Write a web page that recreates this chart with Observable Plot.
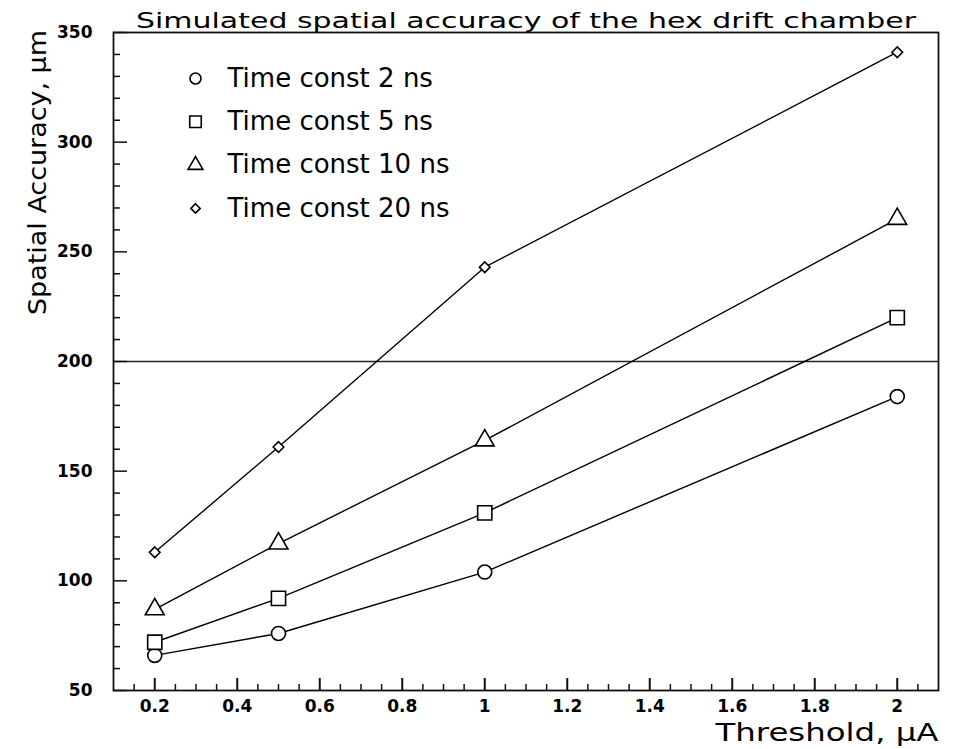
<!DOCTYPE html>
<html><head><meta charset="utf-8">
<script src="https://cdn.jsdelivr.net/npm/d3@7"></script>
<script src="https://cdn.jsdelivr.net/npm/@observablehq/plot@0.6"></script>
<style>body{margin:0;background:#fff} svg{display:block}</style>
</head><body><div id="chart"></div>
<script>
// ---- data ----
const thresholds = [0.2, 0.5, 1, 2];
const seriesNames = ["Time const 2 ns", "Time const 5 ns", "Time const 10 ns", "Time const 20 ns"];
const tc2  = [66, 76, 104, 184];
const tc5  = [72, 92, 131, 220];
const tc10 = [87, 117, 164, 265];
const tc20 = [113, 161, 243, 341];
const referenceLevel = [200];
const xTickLabels = [0.2, 0.4, 0.6, 0.8, 1, 1.2, 1.4, 1.6, 1.8, 2];
const yTickLabels = [50, 100, 150, 200, 250, 300, 350];
const title = "Simulated spatial accuracy of the hex drift chamber";
const xLabel = "Threshold, \u03bcA";
const yLabel = "Spatial Accuracy, \u03bcm";

// ---- styles ----
const W = 956, H = 749, mL = 113, mR = 18, mT = 32, mB = 59;
const fw = W - mL - mR, fh = H - mT - mB;
const symbols = [
  {symbol: "circle", r: 7, lr: 5.5},
  {symbol: "square", r: 8, lr: 6.5},
  {symbol: "triangle", r: 7, lr: 5.5},
  {symbol: "diamond2", r: 4.8, lr: 4.2}
];
const allSeries = [tc2, tc5, tc10, tc20];
const xMinor = d3.range(3, 42).map(i => i * 0.05).filter(v => !xTickLabels.some(t => Math.abs(t - v) < 1e-9));
const yMinor = d3.range(6, 35).map(i => i * 10).filter(v => v % 50 !== 0);

const marks = [
  Plot.ruleY(referenceLevel, {stroke: "#222", strokeWidth: 1.5}),
  Plot.tickY(yMinor, {y: d => d, insetRight: fw - 7, stroke: "#111", strokeWidth: 1.5}),
  Plot.tickY(yTickLabels, {y: d => d, insetRight: fw - 14, stroke: "#111", strokeWidth: 1.5}),
  Plot.tickX(xMinor, {x: d => d, insetTop: fh - 6, stroke: "#111", strokeWidth: 1.5}),
  Plot.tickX(xTickLabels, {x: d => d, insetTop: fh - 12, stroke: "#111", strokeWidth: 2}),
  Plot.axisY({ticks: yTickLabels, tickSize: 0, tickPadding: 21, label: null, tickFormat: d => String(d), fontSize: 17, fontWeight: "bold"}),
  Plot.axisX({ticks: xTickLabels, tickSize: 0, tickPadding: 9, label: null, tickFormat: d => String(d), fontSize: 17, fontWeight: "bold"})
];

allSeries.forEach((vals, i) => {
  const rows = thresholds.map((t, j) => ({threshold: t, value: vals[j]}));
  marks.push(Plot.line(rows, {x: "threshold", y: "value", stroke: "#000", strokeWidth: 1.4}));
  marks.push(Plot.dot(rows, {x: "threshold", y: "value", symbol: symbols[i].symbol, r: symbols[i].r, stroke: "#000", strokeWidth: 1.6, fill: "white"}));
  marks.push(Plot.dot([seriesNames[i]], {frameAnchor: "top-left", dx: 82, dy: 46 + i * 43.3, symbol: symbols[i].symbol, r: symbols[i].lr, stroke: "#000", strokeWidth: 1.6, fill: "white"}));
  marks.push(Plot.text([seriesNames[i]], {frameAnchor: "top-left", dx: 114, dy: 46 + i * 43.3, text: d => d, textAnchor: "start", lineAnchor: "middle", fontSize: 26, fill: "#000"}));
});

marks.push(Plot.frame({stroke: "#111", strokeWidth: 1.8}));
marks.push(Plot.text([title], {frameAnchor: "top", textAnchor: "middle", dy: -5, lineAnchor: "bottom", text: d => d, fontSize: 21, fill: "#000"}));
marks.push(Plot.text([xLabel], {frameAnchor: "bottom-right", textAnchor: "end", lineAnchor: "bottom", dy: 50, text: d => d, fontSize: 25, fill: "#000"}));
marks.push(Plot.text([yLabel], {frameAnchor: "top-left", textAnchor: "middle", rotate: -90, dx: -68, dy: 140, lineAnchor: "bottom", text: d => d, fontSize: 25, fill: "#000"}));

const chart = Plot.plot({
  width: W, height: H,
  marginLeft: mL, marginRight: mR, marginTop: mT, marginBottom: mB,
  x: {domain: [0.1, 2.1]},
  y: {domain: [50, 350]},
  style: {fontFamily: "DejaVu Sans", fontSize: "18px", color: "#000", background: "white", overflow: "visible"},
  marks
});
document.getElementById("chart").appendChild(chart);

const lengths = {[title]: 780, [xLabel]: 223, [yLabel]: 285};
d3.select(chart).selectAll("text").each(function () {
  const t = this.textContent;
  if (lengths[t]) { this.setAttribute("textLength", lengths[t]); this.setAttribute("lengthAdjust", "spacingAndGlyphs"); }
});
</script>
</body></html>
